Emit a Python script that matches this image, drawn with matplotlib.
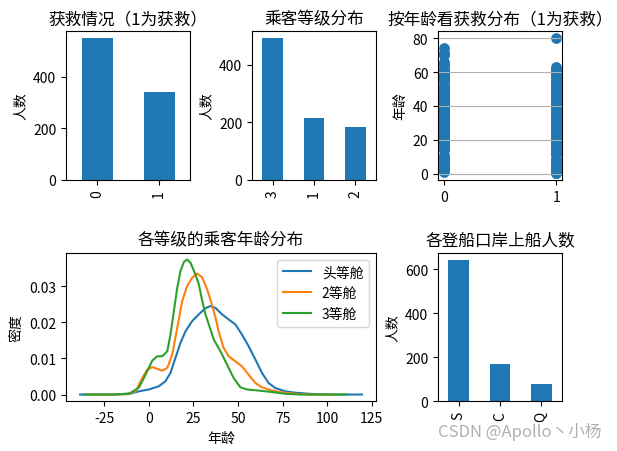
import matplotlib
matplotlib.use('Agg')
import matplotlib.pyplot as plt
import numpy as np

plt.rcParams['font.family'] = ['Noto Sans CJK SC', 'DejaVu Sans']
plt.rcParams['axes.unicode_minus'] = False

# 获救情况
survived_labels = ['0', '1']
survived_counts = [549, 342]

# 乘客等级
pclass_labels = ['3', '1', '2']
pclass_counts = [491, 216, 184]

# 登船口岸
embarked_labels = ['S', 'C', 'Q']
embarked_counts = [644, 168, 77]

# 按年龄看获救分布
age_died = [1, 2, 3, 4, 6, 7, 8, 9, 10, 11, 14, 14.5, 15, 16, 17, 18, 19, 20,
            20.5, 21, 22, 23, 23.5, 24, 24.5, 25, 26, 27, 28, 28.5, 29, 30, 30.5,
            31, 32, 32.5, 33, 34, 34.5, 35, 36, 36.5, 37, 38, 39, 40, 40.5, 41,
            42, 43, 44, 45, 45.5, 46, 47, 48, 49, 50, 51, 52, 54, 55, 55.5, 56,
            57, 58, 59, 60, 61, 62, 64, 65, 66, 70, 70.5, 71, 74]
age_saved = [0.42, 0.67, 0.75, 0.83, 0.92, 1, 2, 3, 4, 5, 6, 7, 8, 9, 11, 12, 13,
             14, 15, 16, 17, 18, 19, 20, 21, 22, 23, 24, 25, 26, 27, 28, 29, 30,
             31, 32, 32.5, 33, 34, 35, 36, 37, 38, 39, 40, 41, 42, 43, 44, 45, 46,
             47, 48, 49, 50, 51, 52, 53, 54, 55, 56, 57, 58, 59, 60, 61, 62, 63, 80]

# 各等级年龄密度曲线
kde1_age = [-38.6, -20, -10, -5.6, 0, 5.6, 9.3, 12.1, 14.9, 17.7, 20.5, 24.2, 28,
            31.7, 34.5, 37.3, 41, 44.7, 48.5, 52.2, 55.9, 59.7, 63.4, 67.1, 70.9,
            76.4, 82, 90, 100, 119.5]
kde1_den = [0, 0, 0.0003, 0.0009, 0.0014, 0.0023, 0.0037, 0.006, 0.0102, 0.0143,
            0.0175, 0.0203, 0.0222, 0.0239, 0.0245, 0.024, 0.0222, 0.0208, 0.0194,
            0.0166, 0.0134, 0.0097, 0.006, 0.0032, 0.0018, 0.0009, 0.0005, 0.0002,
            0, 0]
kde2_age = [-34, -20, -12, -7.5, -3.7, -0.9, 1.9, 4.7, 7.5, 10.3, 13.1, 15.9, 18.6,
            21.4, 24.2, 27, 29.8, 32.6, 35, 37.5, 39.1, 41.9, 44.7, 48.5, 52.2,
            55.9, 59.7, 63.4, 69, 74.6, 82, 90, 104.7]
kde2_den = [0, 0, 0.0001, 0.0009, 0.0046, 0.0069, 0.0076, 0.0071, 0.0066, 0.0074,
            0.0111, 0.0185, 0.0258, 0.030, 0.0323, 0.0335, 0.0325, 0.0292, 0.0255,
            0.021, 0.0175, 0.0129, 0.0106, 0.0092, 0.0078, 0.0055, 0.0032, 0.002,
            0.0011, 0.0006, 0.0002, 0, 0]
kde3_age = [-36.4, -20, -11.2, -5.6, -1.9, 1.9, 4.7, 7.5, 10.3, 12.1, 14, 15.9,
            17.7, 19.6, 21.4, 23.3, 26.1, 28, 29.8, 31.7, 33.6, 36.4, 40.1, 43.8,
            47.5, 51.3, 55, 61.5, 69, 76.4, 85, 110.8]
kde3_den = [0, 0, 0.0002, 0.0019, 0.0055, 0.0094, 0.0106, 0.0106, 0.012, 0.0166,
            0.0231, 0.0296, 0.0342, 0.0367, 0.0374, 0.0365, 0.0332, 0.0305, 0.0262,
            0.0222, 0.0194, 0.0152, 0.012, 0.0083, 0.0046, 0.002, 0.0014, 0.0011,
            0.0007, 0.0002, 0, 0]

fig = plt.figure(figsize=(6.17, 4.52), dpi=100)
c = '#1f77b4'

ax1 = plt.subplot2grid((2, 3), (0, 0))
ax1.bar(range(len(survived_counts)), survived_counts, width=0.5, color=c)
ax1.set_xticks(range(len(survived_labels)))
ax1.set_xticklabels(survived_labels, rotation=90)
ax1.set_xlim(-0.5, 1.5)
ax1.set_title('获救情况（1为获救）')
ax1.set_ylabel('人数')

ax2 = plt.subplot2grid((2, 3), (0, 1))
ax2.bar(range(len(pclass_counts)), pclass_counts, width=0.5, color=c)
ax2.set_xticks(range(len(pclass_labels)))
ax2.set_xticklabels(pclass_labels, rotation=90)
ax2.set_xlim(-0.5, 2.5)
ax2.set_title('乘客等级分布')
ax2.set_ylabel('人数')

ax3 = plt.subplot2grid((2, 3), (0, 2))
ax3.scatter([0] * len(age_died), age_died, color=c, s=45)
ax3.scatter([1] * len(age_saved), age_saved, color=c, s=45)
ax3.set_xticks([0, 1])
ax3.set_yticks([0, 20, 40, 60, 80])
ax3.grid(True, axis='y')
ax3.set_ylabel('年龄')
ax3.set_title('按年龄看获救分布（1为获救）')

ax4 = plt.subplot2grid((2, 3), (1, 0), colspan=2)
ax4.plot(kde1_age, kde1_den, label='头等舱')
ax4.plot(kde2_age, kde2_den, label='2等舱')
ax4.plot(kde3_age, kde3_den, label='3等舱')
ax4.set_xlabel('年龄')
ax4.set_ylabel('密度')
ax4.set_yticks([0, 0.01, 0.02, 0.03])
ax4.set_yticklabels(['0.00', '0.01', '0.02', '0.03'])
ax4.set_title('各等级的乘客年龄分布')
ax4.legend(loc='upper right')

ax5 = plt.subplot2grid((2, 3), (1, 2))
ax5.bar(range(len(embarked_counts)), embarked_counts, width=0.5, color=c)
ax5.set_xticks(range(len(embarked_labels)))
ax5.set_xticklabels(embarked_labels, rotation=90)
ax5.set_xlim(-0.5, 2.5)
ax5.set_title('各登船口岸上船人数')
ax5.set_ylabel('人数')

plt.subplots_adjust(left=0.107, right=0.911, top=0.9285, bottom=0.11,
                    wspace=0.5, hspace=0.49)

fig.text(0.975, 0.025, 'CSDN @Apollo丶小杨', ha='right', va='bottom',
         fontsize=12, color='#b0b0b0')

plt.savefig('out.png')
